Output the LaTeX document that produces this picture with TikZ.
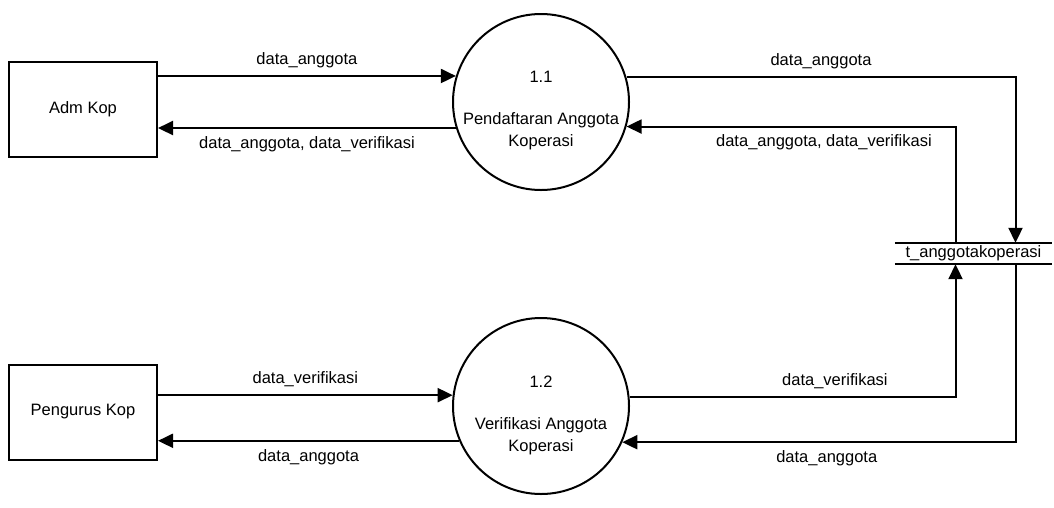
\documentclass[tikz,border=0pt]{standalone}
\usepackage{fontspec}
\setmainfont{Liberation Sans}
\usetikzlibrary{arrows.meta}

\begin{document}
\begin{tikzpicture}[x=1pt,y=-1pt]
			\tikzset{every node/.style={font=\fontsize{16.5}{22}\selectfont}}
			\tikzset{entity/.style={draw,line width=2pt,minimum width=148pt,minimum height=95pt}}
			\tikzset{process/.style={draw,circle,line width=2pt,minimum size=176pt,inner sep=0pt}}
			\tikzset{store/.style={minimum width=157pt,minimum height=21pt,inner sep=0pt}}
			\tikzset{flow/.style={line width=2pt,-{Triangle[length=15pt,width=14pt]}}}
			\useasboundingbox (0,0) rectangle (1054,507);
			\node[entity] (adm) at (83,109) {Adm Kop};
			\node[entity] (pengurus) at (83,412) {Pengurus Kop};
			\node[process] (p11) at (541,102) {};
			\node (p11num) at (541,77) {1.1};
			\node[align=center] (p11txt) at (541,131) {Pendaftaran Anggota\\Koperasi};
			\node[process] (p12) at (541,406) {};
			\node (p12num) at (541,382) {1.2};
			\node[align=center] (p12txt) at (541,436) {Verifikasi Anggota\\Koperasi};
			\node[store] (tabel) at (973.5,253.5) {t\_anggotakoperasi};
			\draw[line width=2pt] (tabel.north west) -- (tabel.north east) (tabel.south west) -- (tabel.south east);
			\draw[flow] (adm.east |- p11.163.5) -- node[above=4pt] {data\_anggota} (p11.163.5);
			\draw[flow] (p11.197) -- node[below=4pt] {data\_anggota, data\_verifikasi} (adm.east |- p11.197);
			\draw[flow] (p11.16.5) -| node[pos=0.25,above=4pt] {data\_anggota} ([xshift=42pt]tabel.north);
			\draw[flow] ([xshift=-18pt]tabel.north) |- node[pos=0.7,below=4pt] {data\_anggota, data\_verifikasi} (p11.-16);
			\draw[flow] (pengurus.east |- p12.173) -- node[above=4pt] {data\_verifikasi} (p12.173);
			\draw[flow] (p12.203) -- node[below=4pt] {data\_anggota} (pengurus.east |- p12.203);
			\draw[flow] (p12.6) -| node[pos=0.315,above=4pt] {data\_verifikasi} ([xshift=-18pt]tabel.south);
			\draw[flow] ([xshift=42pt]tabel.south) |- node[pos=0.74,below=4pt] {data\_anggota} (p12.-24);
		\end{tikzpicture}
\end{document}
